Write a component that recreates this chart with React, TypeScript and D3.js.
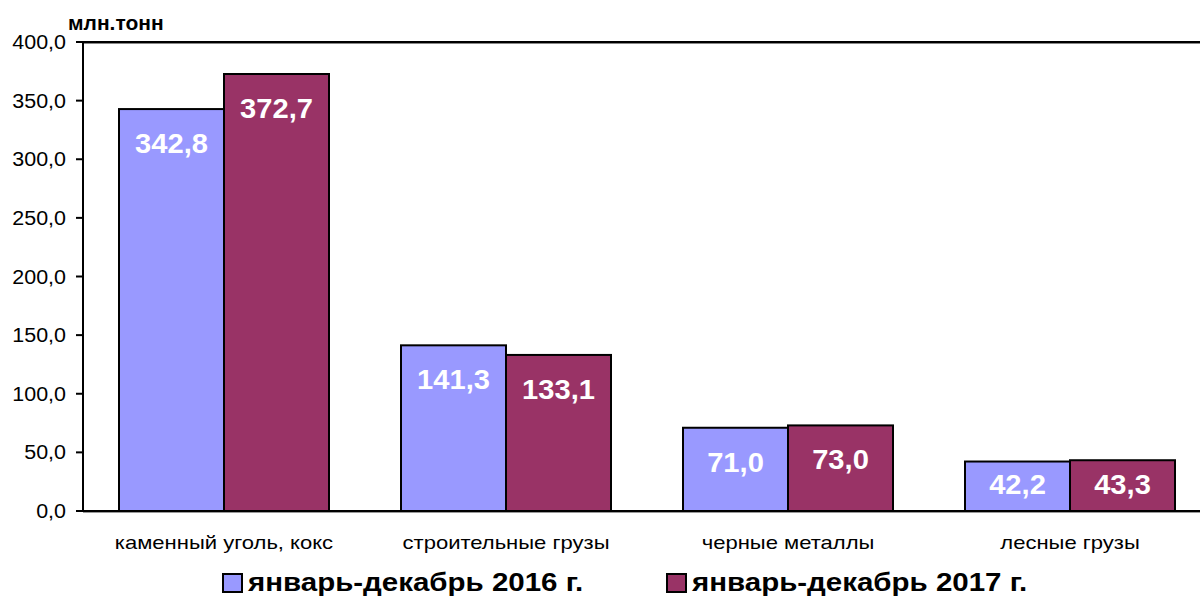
import { useEffect, useRef } from "react";
import * as d3 from "d3";

const categories = [
  "каменный уголь, кокс",
  "строительные грузы",
  "черные металлы",
  "лесные грузы",
];
const series2016 = [342.8, 141.3, 71.0, 42.2];
const series2017 = [372.7, 133.1, 73.0, 43.3];
const seriesNames = ["январь-декабрь 2016 г.", "январь-декабрь 2017 г."];
const colors = ["#9999FF", "#993366"];
const yTicks = [0, 50, 100, 150, 200, 250, 300, 350, 400];

const fmt = (v: number) => v.toFixed(1).replace(".", ",");

export default function App() {
  const ref = useRef<SVGSVGElement>(null);

  useEffect(() => {
    const svg = d3.select(ref.current);
    svg.selectAll("*").remove();

    const width = 1200;
    const height = 597;
    const left = 83;
    const top = 42;
    const bottom = 511;
    const right = 1211;
    const font = "'Liberation Sans', Arial, sans-serif";
    // text in the original is a little wider than plain Arial
    const at = (x: number, y: number, sx: number) => `translate(${x},${y}) scale(${sx},1)`;

    svg.attr("width", width).attr("height", height);

    const y = d3.scaleLinear().domain([0, 400]).range([bottom, top]);
    const x0 = d3.scaleBand().domain(categories).range([left, right]).padding(0);
    const x1 = d3.scaleBand().domain(["0", "1"]).range([36, x0.bandwidth() - 36]).padding(0);

    const rows = categories.map((c, i) => ({ cat: c, vals: [series2016[i], series2017[i]] }));

    // top frame line with its grey shadow
    svg.append("line")
      .attr("x1", left).attr("x2", width).attr("y1", top + 1.5).attr("y2", top + 1.5)
      .attr("stroke", "#888").attr("stroke-width", 1);
    svg.append("line")
      .attr("x1", left).attr("x2", width).attr("y1", top).attr("y2", top)
      .attr("stroke", "#000").attr("stroke-width", 2);

    // bars
    const groups = svg.selectAll("g.grp")
      .data(rows)
      .join("g")
      .attr("class", "grp")
      .attr("transform", d => `translate(${x0(d.cat)},0)`);

    groups.selectAll("rect")
      .data(d => d.vals.map((v, k) => ({ v, k })))
      .join("rect")
      .attr("x", d => x1(String(d.k))!)
      .attr("y", d => y(d.v))
      .attr("width", x1.bandwidth())
      .attr("height", d => bottom - y(d.v))
      .attr("fill", d => colors[d.k])
      .attr("stroke", "#000")
      .attr("stroke-width", 2);

    // labels sit near the top of tall bars, centred in short ones
    const labelY = (v: number) => Math.min(y(v) + 44, (y(v) + bottom) / 2 + 8);

    groups.selectAll("text.val")
      .data(d => d.vals.map((v, k) => ({ v, k })))
      .join("text")
      .attr("class", "val")
      .attr("transform", d => at(x1(String(d.k))! + x1.bandwidth() / 2, labelY(d.v), 1.04))
      .attr("text-anchor", "middle")
      .attr("fill", "#fff")
      .attr("font-family", font)
      .attr("font-weight", "bold")
      .attr("font-size", 28)
      .text(d => fmt(d.v));

    // axes
    svg.append("line")
      .attr("x1", left).attr("x2", width).attr("y1", bottom + 1.5).attr("y2", bottom + 1.5)
      .attr("stroke", "#999").attr("stroke-width", 1);
    svg.append("line")
      .attr("x1", left - 7).attr("x2", width).attr("y1", bottom).attr("y2", bottom)
      .attr("stroke", "#000").attr("stroke-width", 2);
    svg.append("line")
      .attr("x1", left).attr("x2", left).attr("y1", top - 1).attr("y2", bottom + 1)
      .attr("stroke", "#000").attr("stroke-width", 2);

    svg.selectAll("line.tick")
      .data(yTicks)
      .join("line")
      .attr("class", "tick")
      .attr("x1", left - 7).attr("x2", left)
      .attr("y1", d => y(d)).attr("y2", d => y(d))
      .attr("stroke", "#000").attr("stroke-width", 2);

    svg.selectAll("text.ytick")
      .data(yTicks)
      .join("text")
      .attr("class", "ytick")
      .attr("transform", d => at(66, y(d), 1.1))
      .attr("dy", "0.36em")
      .attr("text-anchor", "end")
      .attr("font-family", font)
      .attr("font-size", 19.5)
      .text(d => fmt(d));

    svg.append("text")
      .attr("transform", at(68, 30, 1.0))
      .attr("font-family", font)
      .attr("font-weight", "bold")
      .attr("font-size", 21)
      .text("млн.тонн");

    svg.selectAll("text.cat")
      .data(categories)
      .join("text")
      .attr("class", "cat")
      .attr("transform", d => at(x0(d)! + x0.bandwidth() / 2, 549, 1.16))
      .attr("text-anchor", "middle")
      .attr("font-family", font)
      .attr("font-size", 19)
      .text(d => d);

    // legend
    const legendX = [222, 666];
    const leg = svg.selectAll("g.leg")
      .data(seriesNames)
      .join("g")
      .attr("class", "leg")
      .attr("transform", (d, i) => `translate(${legendX[i]},574)`);
    leg.append("rect")
      .attr("x", 1).attr("y", 0).attr("width", 19).attr("height", 18)
      .attr("fill", (d, i) => colors[i])
      .attr("stroke", "#000").attr("stroke-width", 2);
    leg.append("text")
      .attr("transform", at(26, 17, 1.18))
      .attr("font-family", font)
      .attr("font-weight", "bold")
      .attr("font-size", 25)
      .text(d => d);
  }, []);

  return <svg ref={ref} style={{ position: "absolute", left: 0, top: 0 }}></svg>;
}
